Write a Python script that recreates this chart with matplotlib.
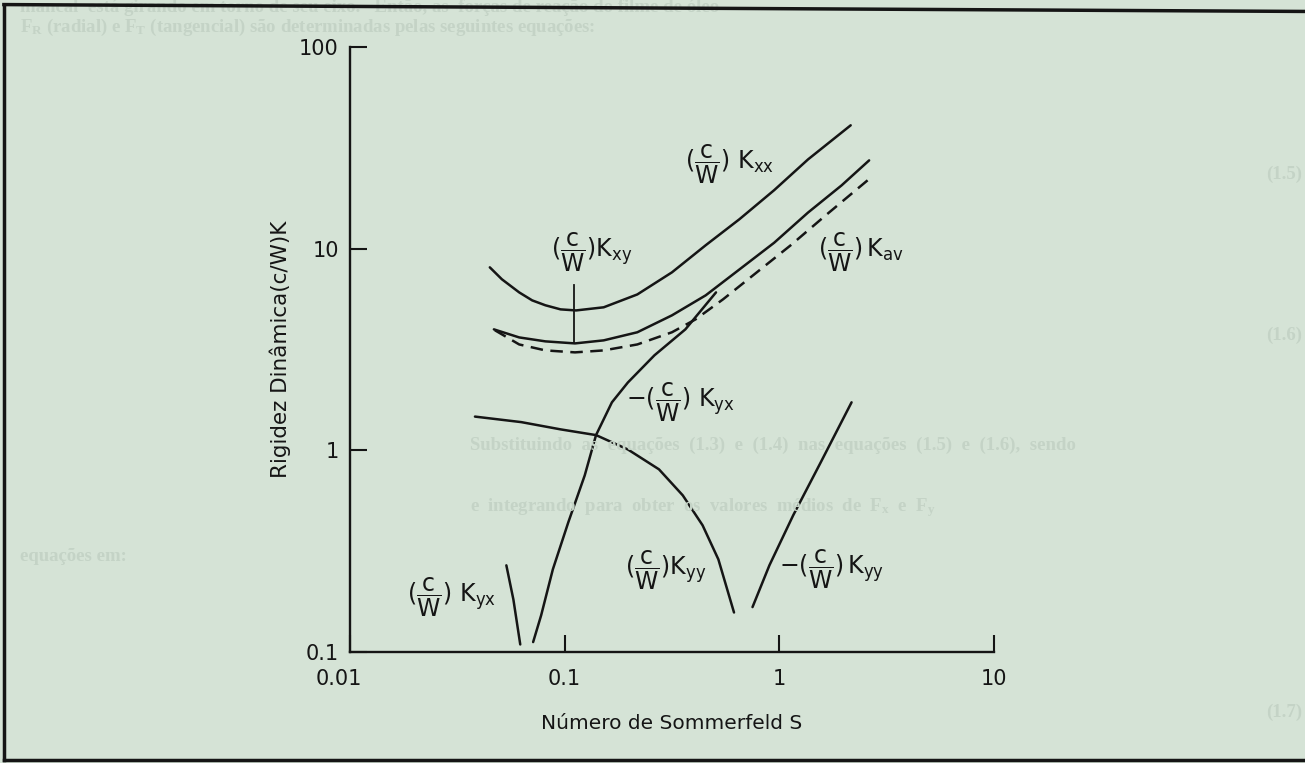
import matplotlib

matplotlib.use("Agg")
import matplotlib.pyplot as plt
import matplotlib.transforms as mtransforms
from matplotlib.lines import Line2D

plt.rcParams["font.family"] = ["DejaVu Sans"]
plt.rcParams["mathtext.fontset"] = "dejavusans"
plt.rcParams["mathtext.default"] = "regular"

# --- curve data (Sommerfeld number S, stiffness) ---
kxx_s = [0.0448, 0.051, 0.0614, 0.0706, 0.0813, 0.0957, 0.113, 0.152, 0.218, 0.316, 0.454,
         0.652, 0.946, 1.36, 2.15]
kxx_k = [8.08, 7.05, 6.07, 5.54, 5.24, 5.0, 4.94, 5.12, 5.93, 7.63, 10.4,
         14.0, 19.5, 27.7, 40.9]

kxy_s = [0.0468, 0.0614, 0.0813, 0.1117, 0.152, 0.218, 0.316, 0.454, 0.652, 0.946, 1.36, 1.95, 2.62]
kxy_k = [3.98, 3.63, 3.47, 3.39, 3.51, 3.85, 4.67, 5.87, 7.89, 10.7, 15.1, 20.6, 27.4]

kav_s = [0.0473, 0.0614, 0.0813, 0.1117, 0.152, 0.218, 0.316, 0.407, 0.547, 0.785, 1.13, 1.64, 2.68]
kav_k = [3.94, 3.35, 3.13, 3.06, 3.13, 3.35, 3.85, 4.46, 5.61, 7.63, 10.4, 14.6, 22.6]

neg_kyx_s = [0.0713, 0.0777, 0.0881, 0.104, 0.124, 0.140, 0.166, 0.197, 0.262, 0.365, 0.507]
neg_kyx_k = [0.112, 0.152, 0.257, 0.440, 0.751, 1.19, 1.73, 2.17, 2.96, 3.98, 6.07]

kyx_s = [0.0535, 0.0577, 0.0621]
kyx_k = [0.269, 0.182, 0.109]

kyy_s = [0.0382, 0.0628, 0.0959, 0.140, 0.197, 0.275, 0.355, 0.439, 0.520, 0.615]
kyy_k = [1.47, 1.38, 1.27, 1.19, 1.01, 0.805, 0.598, 0.425, 0.288, 0.157]

neg_kyy_s = [0.750, 0.899, 1.16, 1.56, 2.17]
neg_kyy_k = [0.167, 0.269, 0.476, 0.873, 1.73]

# short marker under the Kxy label
kxy_mark_s = [0.110, 0.110]
kxy_mark_k = [6.58, 3.39]

x_ticks = [0.01, 0.1, 1, 10]
x_tick_labels = ["0.01", "0.1", "1", "10"]
y_ticks = [0.1, 1, 10, 100]
y_tick_labels = ["0.1", "1", "10", "100"]

BG = "#d5e3d6"
INK = "#151515"
FAINT = "#c4d3c6"

fig = plt.figure(figsize=(13.05, 7.63), dpi=100, facecolor=BG)

# faded text of the page behind the slide
page_lines = [
    (0.015, 0.984, "mancal  está girando em torno de seu eixo.   Então, as  forças de reação do filme de óleo"),
    (0.015, 0.958, r"$F_R$ (radial) e $F_T$ (tangencial) são determinadas pelas seguintes equações:"),
    (0.97, 0.765, "(1.5)"),
    (0.97, 0.555, "(1.6)"),
    (0.36, 0.41, "Substituindo  as  equações  (1.3)  e  (1.4)  nas  equações  (1.5)  e  (1.6),  sendo"),
    (0.36, 0.33, r"e  integrando  para  obter  os  valores  médios  de  $F_x$  e  $F_y$"),
    (0.015, 0.265, "equações em:"),
    (0.97, 0.06, "(1.7)"),
]
for px, py, txt in page_lines:
    fig.text(px, py, txt, fontsize=13.5, color=FAINT, family="Liberation Serif",
             fontweight="bold", zorder=0)

ax = fig.add_axes([350 / 1305, 1 - 652 / 763, (994 - 350) / 1305, (652 - 47) / 763])
ax.set_facecolor("none")
ax.set_xscale("log")
ax.set_yscale("log")
ax.set_xlim(0.01, 10)
ax.set_ylim(0.1, 100)

line = dict(color=INK, lw=1.8, solid_joinstyle="round", solid_capstyle="round")
ax.plot(kxx_s, kxx_k, **line)
ax.plot(kxy_s, kxy_k, **line)
ax.plot(kav_s, kav_k, color=INK, lw=1.8, linestyle=(0, (5, 3)))
ax.plot(neg_kyx_s, neg_kyx_k, **line)
ax.plot(kyx_s, kyx_k, **line)
ax.plot(kyy_s, kyy_k, **line)
ax.plot(neg_kyy_s, neg_kyy_k, **line)
ax.plot(kxy_mark_s, kxy_mark_k, color=INK, lw=1.3)

lab = dict(fontsize=17, color=INK, va="center")
ax.text(0.365, 26.2, r"$(\dfrac{c}{W})\ K_{xx}$", **lab)
ax.text(0.086, 9.6, r"$(\dfrac{c}{W})K_{xy}$", **lab)
ax.text(1.52, 9.6, r"$(\dfrac{c}{W})\,K_{av}$", **lab)
ax.text(0.193, 1.73, r"$-(\dfrac{c}{W})\ K_{yx}$", **lab)
ax.text(0.0185, 0.187, r"$(\dfrac{c}{W})\ K_{yx}$", **lab)
ax.text(0.192, 0.254, r"$(\dfrac{c}{W})K_{yy}$", **lab)
ax.text(1.0, 0.256, r"$-(\dfrac{c}{W})\,K_{yy}$", **lab)

for side in ("top", "right"):
    ax.spines[side].set_visible(False)
for side in ("left", "bottom"):
    ax.spines[side].set_linewidth(1.7)
    ax.spines[side].set_color(INK)

ax.set_xticks(x_ticks)
ax.set_xticklabels(x_tick_labels)
ax.set_yticks(y_ticks)
ax.set_yticklabels(y_tick_labels)
ax.minorticks_off()
ax.tick_params(direction="in", length=12, width=1.5, color=INK, labelsize=15,
               labelcolor=INK)
ax.tick_params(axis="x", pad=12)
ax.tick_params(axis="y", pad=8)

# the "0.01" sits a little left of the origin in the scan
first = ax.get_xticklabels()[0]
first.set_transform(first.get_transform()
                    + mtransforms.ScaledTranslation(-0.11, 0, fig.dpi_scale_trans))

ax.set_xlabel("Número de Sommerfeld S", fontsize=14.5, color=INK, labelpad=18)
ax.set_ylabel("Rigidez Dinâmica(c/W)K", fontsize=15.5, color=INK, labelpad=6)

# scan frame
for xs, ys in [([0.003, 0.003], [0.004, 0.994]),
               ([0.003, 1.0], [0.994, 0.985]),
               ([0.003, 1.0], [0.004, 0.004])]:
    fig.add_artist(Line2D(xs, ys, transform=fig.transFigure, color=INK, lw=2.5))

fig.savefig("out.png", dpi=100, facecolor=BG)
